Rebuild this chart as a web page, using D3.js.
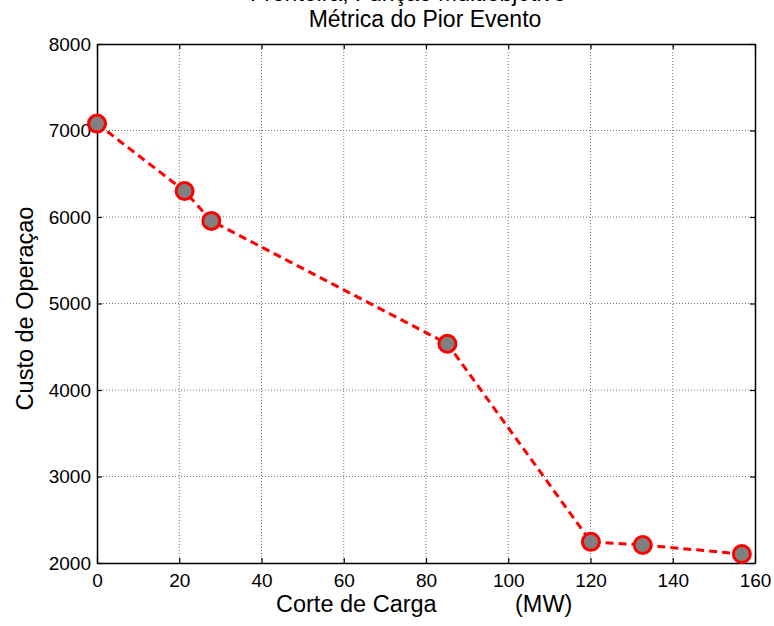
<!DOCTYPE html>
<html>
<head>
<meta charset="utf-8">
<script src="https://cdn.jsdelivr.net/npm/d3@7"></script>
<style>
  body { margin: 0; background: #fff; }
  text { font-family: "Liberation Sans", Arial, sans-serif; }
</style>
</head>
<body>
<div id="chart"></div>
<script>
const corte = [0, 21.3, 27.8, 85.2, 120.1, 132.7, 156.8];
const custo = [7080, 6300, 5955, 4535, 2245, 2208, 2104];
const xTicks = [0, 20, 40, 60, 80, 100, 120, 140, 160];
const yTicks = [2000, 3000, 4000, 5000, 6000, 7000, 8000];

const width = 774;
const height = 626;
const margin = { top: 44, right: 19, bottom: 63, left: 97 };

const svg = d3.select('#chart')
    .append('svg')
    .attr('width', width)
    .attr('height', height);

const x = d3.scaleLinear()
    .domain([0, 160])
    .range([margin.left, width - margin.right]);

const y = d3.scaleLinear()
    .domain([2000, 8000])
    .range([height - margin.bottom, margin.top]);

// grid
svg.append('g')
    .selectAll('line')
    .data(xTicks.slice(1, -1))
    .join('line')
    .attr('x1', d => x(d)).attr('x2', d => x(d))
    .attr('y1', y(2000)).attr('y2', y(8000))
    .attr('stroke', '#777').attr('stroke-width', 1)
    .attr('stroke-dasharray', '1,2');

svg.append('g')
    .selectAll('line')
    .data(yTicks.slice(1, -1))
    .join('line')
    .attr('y1', d => y(d)).attr('y2', d => y(d))
    .attr('x1', x(0)).attr('x2', x(160))
    .attr('stroke', '#777').attr('stroke-width', 1)
    .attr('stroke-dasharray', '1,2');

// axes with inward ticks
const fmt = d3.format('d');
function xAxis(g) {
    g.attr('transform', `translate(0,${y(2000)})`)
        .call(d3.axisBottom(x).tickValues(xTicks).tickFormat(fmt).tickSizeInner(-5).tickSizeOuter(0).tickPadding(11))
        .attr('font-size', '19px');
}
function yAxis(g) {
    g.attr('transform', `translate(${x(0)},0)`)
        .call(d3.axisLeft(y).tickValues(yTicks).tickFormat(fmt).tickSizeInner(-5).tickSizeOuter(0).tickPadding(6))
        .attr('font-size', '19px');
}
function xAxisTop(g) {
    g.attr('transform', `translate(0,${y(8000)})`)
        .call(d3.axisTop(x).tickValues(xTicks).tickSizeInner(-5).tickSizeOuter(0).tickFormat(''));
}
function yAxisRight(g) {
    g.attr('transform', `translate(${x(160)},0)`)
        .call(d3.axisRight(y).tickValues(yTicks).tickSizeInner(-5).tickSizeOuter(0).tickFormat(''));
}
[xAxis, yAxis, xAxisTop, yAxisRight].forEach(f => {
    const g = svg.append('g').call(f);
    g.attr('font-family', '"Liberation Sans", Arial, sans-serif');
    g.selectAll('.domain').attr('stroke', '#000').attr('stroke-width', 1.5);
    g.selectAll('.tick line').attr('stroke', '#000').attr('stroke-width', 1.2);
    g.selectAll('.tick text').attr('fill', '#000');
});

// line
const line = d3.line()
    .x((d, i) => x(corte[i]))
    .y(d => y(d));

svg.append('path')
    .datum(custo)
    .attr('d', line)
    .attr('fill', 'none')
    .attr('stroke', '#ff0000')
    .attr('stroke-width', 3)
    .attr('stroke-dasharray', '8,5');

svg.append('g')
    .selectAll('circle')
    .data(custo)
    .join('circle')
    .attr('cx', (d, i) => x(corte[i]))
    .attr('cy', d => y(d))
    .attr('r', 8.5)
    .attr('fill', '#808080')
    .attr('stroke', '#ff0000')
    .attr('stroke-width', 3);

// titles (first line sits mostly above the page edge, as in the source image)
svg.append('text')
    .attr('x', 408).attr('y', 0.5)
    .attr('text-anchor', 'middle')
    .attr('font-size', '23px')
    .text('Fronteira, Função Multiobjetivo');

svg.append('text')
    .attr('x', 425).attr('y', 27)
    .attr('text-anchor', 'middle')
    .attr('font-size', '23px')
    .text('Métrica do Pior Evento');

svg.append('text')
    .attr('x', 276).attr('y', 612)
    .attr('font-size', '23.5px')
    .text('Corte de Carga');

svg.append('text')
    .attr('x', 515).attr('y', 612)
    .attr('font-size', '23.5px')
    .text('(MW)');

svg.append('text')
    .attr('transform', `translate(33,${(y(2000) + y(8000)) / 2 + 5}) rotate(-90)`)
    .attr('text-anchor', 'middle')
    .attr('font-size', '23.5px')
    .text('Custo de Operaçao');
</script>
</body>
</html>
